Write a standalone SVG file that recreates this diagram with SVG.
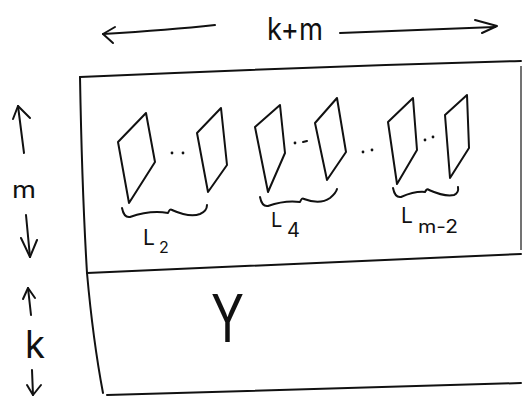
<svg xmlns="http://www.w3.org/2000/svg" width="522" height="398" viewBox="0 0 522 398">
<style>
.ln{fill:none;stroke:#111;stroke-width:2;stroke-linecap:round;stroke-linejoin:round}
.pl{fill:none;stroke:#111;stroke-width:2;stroke-linecap:round;stroke-linejoin:round}
.dot{fill:#111}
.t{font-family:Inter,"Liberation Sans",sans-serif;font-weight:400;fill:#111}
</style>
<rect width="522" height="398" fill="#fff"/>
<g id="box">
  <path class="ln" d="M80,77 Q300,67 521,61"/>
  <path class="ln" d="M80,77 Q82,190 87,273 Q93,340 103,393"/>
  <path class="ln" d="M87,273 Q300,263 521,254"/>
  <path class="ln" d="M107,395 Q320,388 521,383"/>
  <path d="M521,66 L521,250" fill="none" stroke="#444" stroke-width="1.5"/>
</g>
<g id="connectors">
  <path class="ln" d="M103,34 Q170,30 215,25"/>
  <path class="ln" d="M115,27 L103,34 L113,43"/>
  <path class="ln" d="M340,33 Q420,30 495,27"/>
  <path class="ln" d="M475,20 L497,26 L482,33"/>
  <path class="ln" d="M18,106 L24,153"/>
  <path class="ln" d="M13,119 L18,106 L30,118"/>
  <path class="ln" d="M26,215 L30,257"/>
  <path class="ln" d="M21,238 L30,257 L37,240"/>
  <path class="ln" d="M28,288 L31,315"/>
  <path class="ln" d="M23,299 L28,288 L35,298"/>
  <path class="ln" d="M32,370 L33,395"/>
  <path class="ln" d="M27,385 L33,395 L41,385"/>
</g>
<g id="label-kplusm"><text class="t" x="267" y="40" font-size="31" font-weight="300" textLength="56" lengthAdjust="spacingAndGlyphs">k+m</text></g>
<g id="label-m"><text class="t" x="12" y="198" font-size="24" textLength="24" lengthAdjust="spacingAndGlyphs">m</text></g>
<g id="label-k"><text class="t" x="25" y="358" font-size="38" font-weight="300" textLength="20" lengthAdjust="spacingAndGlyphs">k</text></g>
<g id="L2">
  <path class="pl" d="M146,113 L118,142 L129,203 L155,162 Z"/>
  <circle class="dot" cx="172" cy="153" r="1.4"/><circle class="dot" cx="183" cy="153" r="1.4"/>
  <path class="pl" d="M221,108 L197,133 L208,192 L227,165 Z"/>
  <path class="ln" d="M122,208 Q124,218 130,217 Q150,210 168,213 Q170,208 172,210 Q190,218 200,214 Q207,211 207,205"/>
  <text class="t" font-size="21"><tspan x="143" y="245">L</tspan><tspan x="159" y="253" font-size="16">2</tspan></text>
</g>
<g id="L4">
  <path class="pl" d="M280,105 L255,127 L268,192 L285,153 Z"/>
  <circle class="dot" cx="295" cy="143" r="1.4"/><path class="ln" d="M303,142 L307,141"/>
  <path class="pl" d="M337,98 L315,123 L327,180 L346,152 Z"/>
  <circle class="dot" cx="363" cy="152" r="1.4"/><circle class="dot" cx="372" cy="150" r="1.4"/>
  <path class="ln" d="M260,197 Q262,207 268,206 Q285,200 300,202 Q302,197 304,199 Q320,205 330,198 Q336,193 337,189"/>
  <text class="t" font-size="20"><tspan x="271" y="227">L</tspan><tspan x="287" y="237">4</tspan></text>
</g>
<g id="Lm-2">
  <path class="pl" d="M413,98 L388,122 L397,184 L417,150 Z"/>
  <circle class="dot" cx="425" cy="140" r="1.4"/><circle class="dot" cx="433" cy="137" r="1.4"/>
  <path class="pl" d="M467,95 L445,115 L450,178 L469,148 Z"/>
  <path class="ln" d="M393,188 Q395,198 401,197 Q415,191 425,192 Q427,188 429,190 Q445,197 454,195 Q459,193 458,187"/>
  <text class="t" font-size="21"><tspan x="401" y="223">L</tspan><tspan x="418" y="233" font-size="18" textLength="40" lengthAdjust="spacingAndGlyphs">m-2</tspan></text>
</g>
<g id="label-Y"><text class="t" x="211" y="342" font-size="66" font-weight="100" textLength="33" lengthAdjust="spacingAndGlyphs">Y</text></g>
</svg>
